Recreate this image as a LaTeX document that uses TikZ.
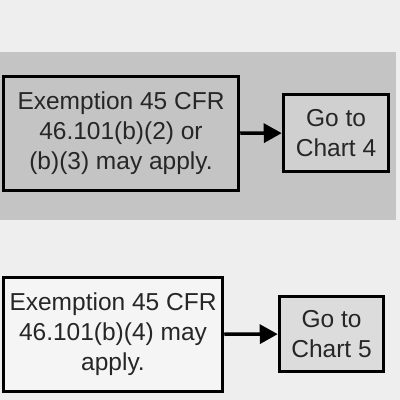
\documentclass[tikz,border=0pt]{standalone}
\usepackage{fontspec}
\setmainfont{Liberation Sans}
\usetikzlibrary{arrows.meta}
\definecolor{paper}{HTML}{EEEEEE}
\definecolor{band}{HTML}{C4C4C4}
\definecolor{goto}{HTML}{D0D0D0}
\definecolor{gotolow}{HTML}{DCDCDC}
\tikzset{
	exbox/.style={draw=black, line width=3.5pt, align=center, inner sep=0pt,
		font=\fontsize{24.5}{30}\selectfont, text=black!85},
	link/.style={line width=3.5pt, -{Triangle[length=18pt,width=19pt]}}
}
\begin{document}
\begin{tikzpicture}[x=1pt,y=-1pt]
		\useasboundingbox (0,0) rectangle (400,400);
		\fill[paper] (0,0) rectangle (400,400);
		\fill[band] (0,52) rectangle (396,220);

		\node[exbox, fill=band, minimum width=235pt, minimum height=114pt] (ex23) at (121,133.5) {Exemption 45 CFR\\46.101(b)(2) or\\(b)(3) may apply.};
		\node[exbox, fill=goto, minimum width=105pt, minimum height=77pt] (chart4) at (336,133) {Go to\\Chart 4};
		\draw[link] (ex23) -- (chart4);

		\node[exbox, fill=paper!60!white, minimum width=219pt, minimum height=114pt] (ex4) at (113,334.5) {Exemption 45 CFR\\46.101(b)(4) may\\apply.};
		\node[exbox, fill=gotolow, minimum width=104pt, minimum height=75pt] (chart5) at (331.5,334) {Go to\\Chart 5};
		\draw[link] (ex4) -- (chart5);
	\end{tikzpicture}
\end{document}
